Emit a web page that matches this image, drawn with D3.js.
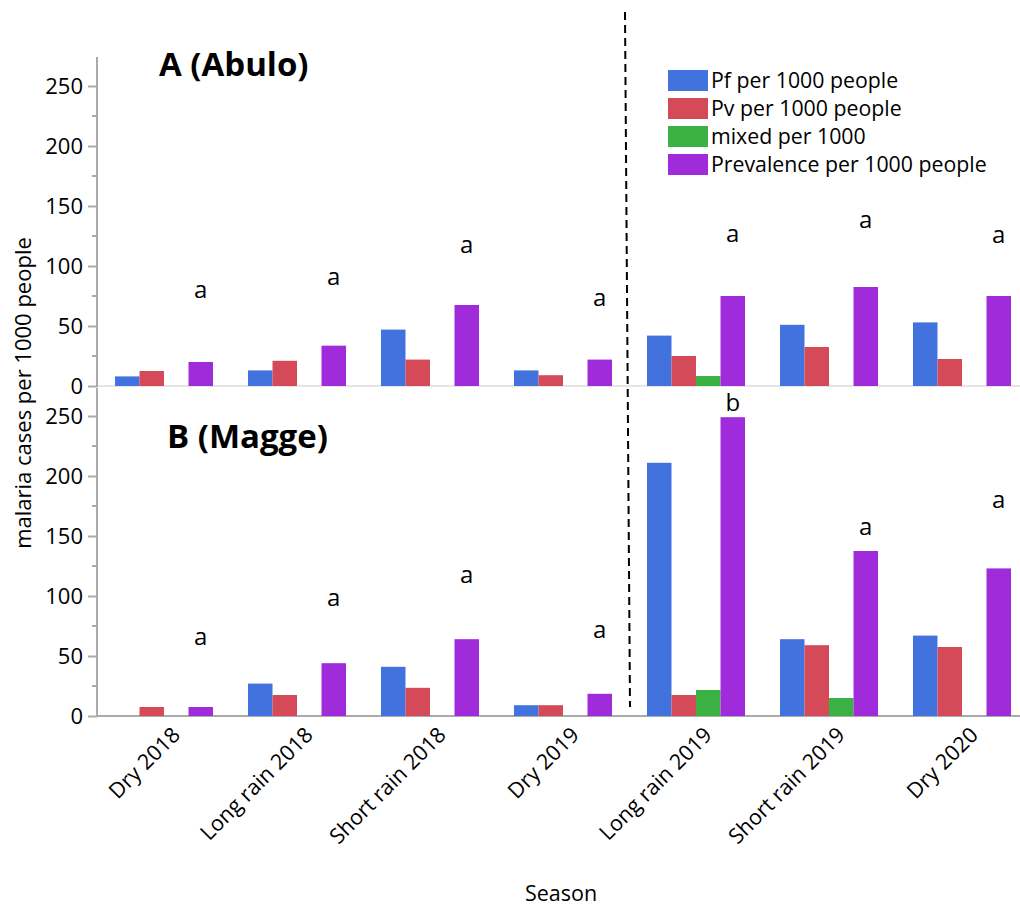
<!DOCTYPE html>
<html lang="en">
<head>
    <meta charset="UTF-8">
    <title>Malaria cases per season</title>
    <script src="https://d3js.org/d3.v7.min.js"></script>
    <style>
        body {
            margin: 0;
            background: #fff;
            font-family: "Open Sans", "Noto Sans", sans-serif;
        }
        svg text {
            fill: #000;
        }
    </style>
</head>
<body>
    <svg id="chart" width="1020" height="907"></svg>
    <script>
        const seasons = ['Dry 2018', 'Long rain 2018', 'Short rain 2018', 'Dry 2019',
                         'Long rain 2019', 'Short rain 2019', 'Dry 2020'];
        const seriesNames = ['Pf per 1000 people', 'Pv per 1000 people', 'mixed per 1000', 'Prevalence per 1000 people'];
        const seriesColors = ['#4172de', '#d54a58', '#3bb143', '#a02bdb'];

        // A (Abulo)
        const abuloPf = [8, 13, 47, 13, 42, 51, 53];
        const abuloPv = [12.5, 21, 22, 9, 25, 32.5, 22.5];
        const abuloMixed = [0, 0, 0, 0, 8.3, 0, 0];
        const abuloPrev = [20, 33.6, 67.5, 22, 75, 82.5, 75];
        const abuloLetters = ['a', 'a', 'a', 'a', 'a', 'a', 'a'];
        const abuloLetterAt = [80, 91, 118, 74, 127, 139, 126];

        // B (Magge)
        const maggePf = [0, 27, 41, 9, 211, 64, 67];
        const maggePv = [7.5, 17.5, 23.5, 9, 17.5, 59, 57.5];
        const maggeMixed = [0, 0, 0, 0, 21.7, 15, 0];
        const maggePrev = [7.5, 44, 64, 18.5, 249, 137.5, 123];
        const maggeLetters = ['a', 'a', 'a', 'a', 'b', 'a', 'a'];
        const maggeLetterAt = [66, 99, 118, 72, 261, 158, 180];

        const yTicks = [0, 50, 100, 150, 200, 250];
        const yMinorTicks = [25, 75, 125, 175, 225];

        const svg = d3.select('#chart');
        const axisX = 97;

        const x = d3.scaleBand()
            .domain(seasons)
            .range([97.5, 1028.5])
            .paddingInner(0.263)
            .paddingOuter(0.1315);

        const xSub = d3.scaleBand()
            .domain(d3.range(seriesNames.length))
            .range([0, x.bandwidth()]);

        function drawPanel(cfg) {
            const y = d3.scaleLinear().domain([0, 275]).range([cfg.bottom, cfg.top]);
            const series = [cfg.pf, cfg.pv, cfg.mixed, cfg.prev];

            // baseline
            svg.append('line')
                .attr('x1', axisX).attr('x2', 1020)
                .attr('y1', y(0)).attr('y2', y(0))
                .attr('stroke', cfg.baseColor)
                .attr('stroke-width', cfg.baseWidth);

            // bars
            series.forEach((vals, si) => {
                svg.append('g')
                    .selectAll('rect')
                    .data(seasons.map((s, i) => ({ season: s, value: vals[i] })))
                    .join('rect')
                    .attr('x', d => x(d.season) + xSub(si))
                    .attr('width', xSub.bandwidth())
                    .attr('y', d => y(d.value))
                    .attr('height', d => y(0) - y(d.value))
                    .attr('fill', seriesColors[si]);
            });

            // significance letters above prevalence bars
            svg.append('g')
                .selectAll('text')
                .data(seasons.map((s, i) => ({ season: s, letter: cfg.letters[i], at: cfg.letterAt[i] })))
                .join('text')
                .attr('x', d => x(d.season) + xSub(3) + xSub.bandwidth() / 2)
                .attr('y', d => y(d.at))
                .attr('dy', '0.35em')
                .attr('text-anchor', 'middle')
                .style('font-size', '24px')
                .text(d => d.letter);

            // y axis
            const axis = svg.append('g')
                .attr('transform', `translate(${axisX},0)`)
                .call(d3.axisLeft(y).tickValues(yTicks).tickSize(9).tickPadding(5).tickSizeOuter(0));
            axis.select('.domain').attr('stroke', '#aaa').attr('stroke-width', 2)
                .attr('d', `M0,${cfg.axisTop}V${cfg.bottom + 1}`);
            axis.selectAll('.tick line').attr('stroke', '#aaa').attr('stroke-width', 2);
            axis.selectAll('.tick text').style('font-size', '22px').style('font-family', '"Open Sans", sans-serif').attr('fill', '#000');

            svg.append('g')
                .attr('transform', `translate(${axisX},0)`)
                .selectAll('line')
                .data(yMinorTicks)
                .join('line')
                .attr('x1', -5).attr('x2', 0)
                .attr('y1', d => y(d)).attr('y2', d => y(d))
                .attr('stroke', '#aaa')
                .attr('stroke-width', 2);

            svg.append('text')
                .attr('x', cfg.titleX)
                .attr('y', cfg.titleY)
                .style('font-size', '33px')
                .style('font-weight', 'bold')
                .text(cfg.title);
        }

        drawPanel({
            title: 'A (Abulo)', titleX: 159, titleY: 76,
            top: 56, bottom: 386, axisTop: 57,
            pf: abuloPf, pv: abuloPv, mixed: abuloMixed, prev: abuloPrev,
            letters: abuloLetters, letterAt: abuloLetterAt,
            baseColor: '#ddd', baseWidth: 1.5
        });

        drawPanel({
            title: 'B (Magge)', titleX: 167, titleY: 448,
            top: 386, bottom: 716, axisTop: 388,
            pf: maggePf, pv: maggePv, mixed: maggeMixed, prev: maggePrev,
            letters: maggeLetters, letterAt: maggeLetterAt,
            baseColor: '#aaa', baseWidth: 2
        });

        // x tick labels
        svg.append('g')
            .selectAll('text')
            .data(seasons)
            .join('text')
            .attr('transform', d => `translate(${x(d) + x.bandwidth() / 2 + 12},${731}) rotate(-45)`)
            .attr('text-anchor', 'end')
            .attr('dy', '0.35em')
            .style('font-size', '21.5px')
            .text(d => d);

        // dashed separator between 2018/early 2019 and later seasons
        svg.append('line')
            .attr('x1', 625).attr('y1', 12)
            .attr('x2', 630).attr('y2', 707)
            .attr('stroke', '#000')
            .attr('stroke-width', 2)
            .attr('stroke-dasharray', '8,5');

        // axis titles
        svg.append('text')
            .attr('x', 561).attr('y', 893)
            .attr('dy', '0.35em')
            .attr('text-anchor', 'middle')
            .style('font-size', '21.5px')
            .text('Season');

        svg.append('text')
            .attr('transform', 'translate(23,393) rotate(-90)')
            .attr('dy', '0.35em')
            .attr('text-anchor', 'middle')
            .style('font-size', '22px')
            .text('malaria cases per 1000 people');

        // legend
        const legend = svg.append('g').attr('transform', 'translate(668,70)');
        const rows = legend.selectAll('g')
            .data(seriesNames)
            .join('g')
            .attr('transform', (d, i) => `translate(0,${i * 28})`);
        rows.append('rect')
            .attr('width', 40).attr('height', 21)
            .attr('fill', (d, i) => seriesColors[i]);
        rows.append('text')
            .attr('x', 43).attr('y', 11)
            .attr('dy', '0.35em')
            .style('font-size', '21.3px')
            .text(d => d);
    </script>
</body>
</html>
